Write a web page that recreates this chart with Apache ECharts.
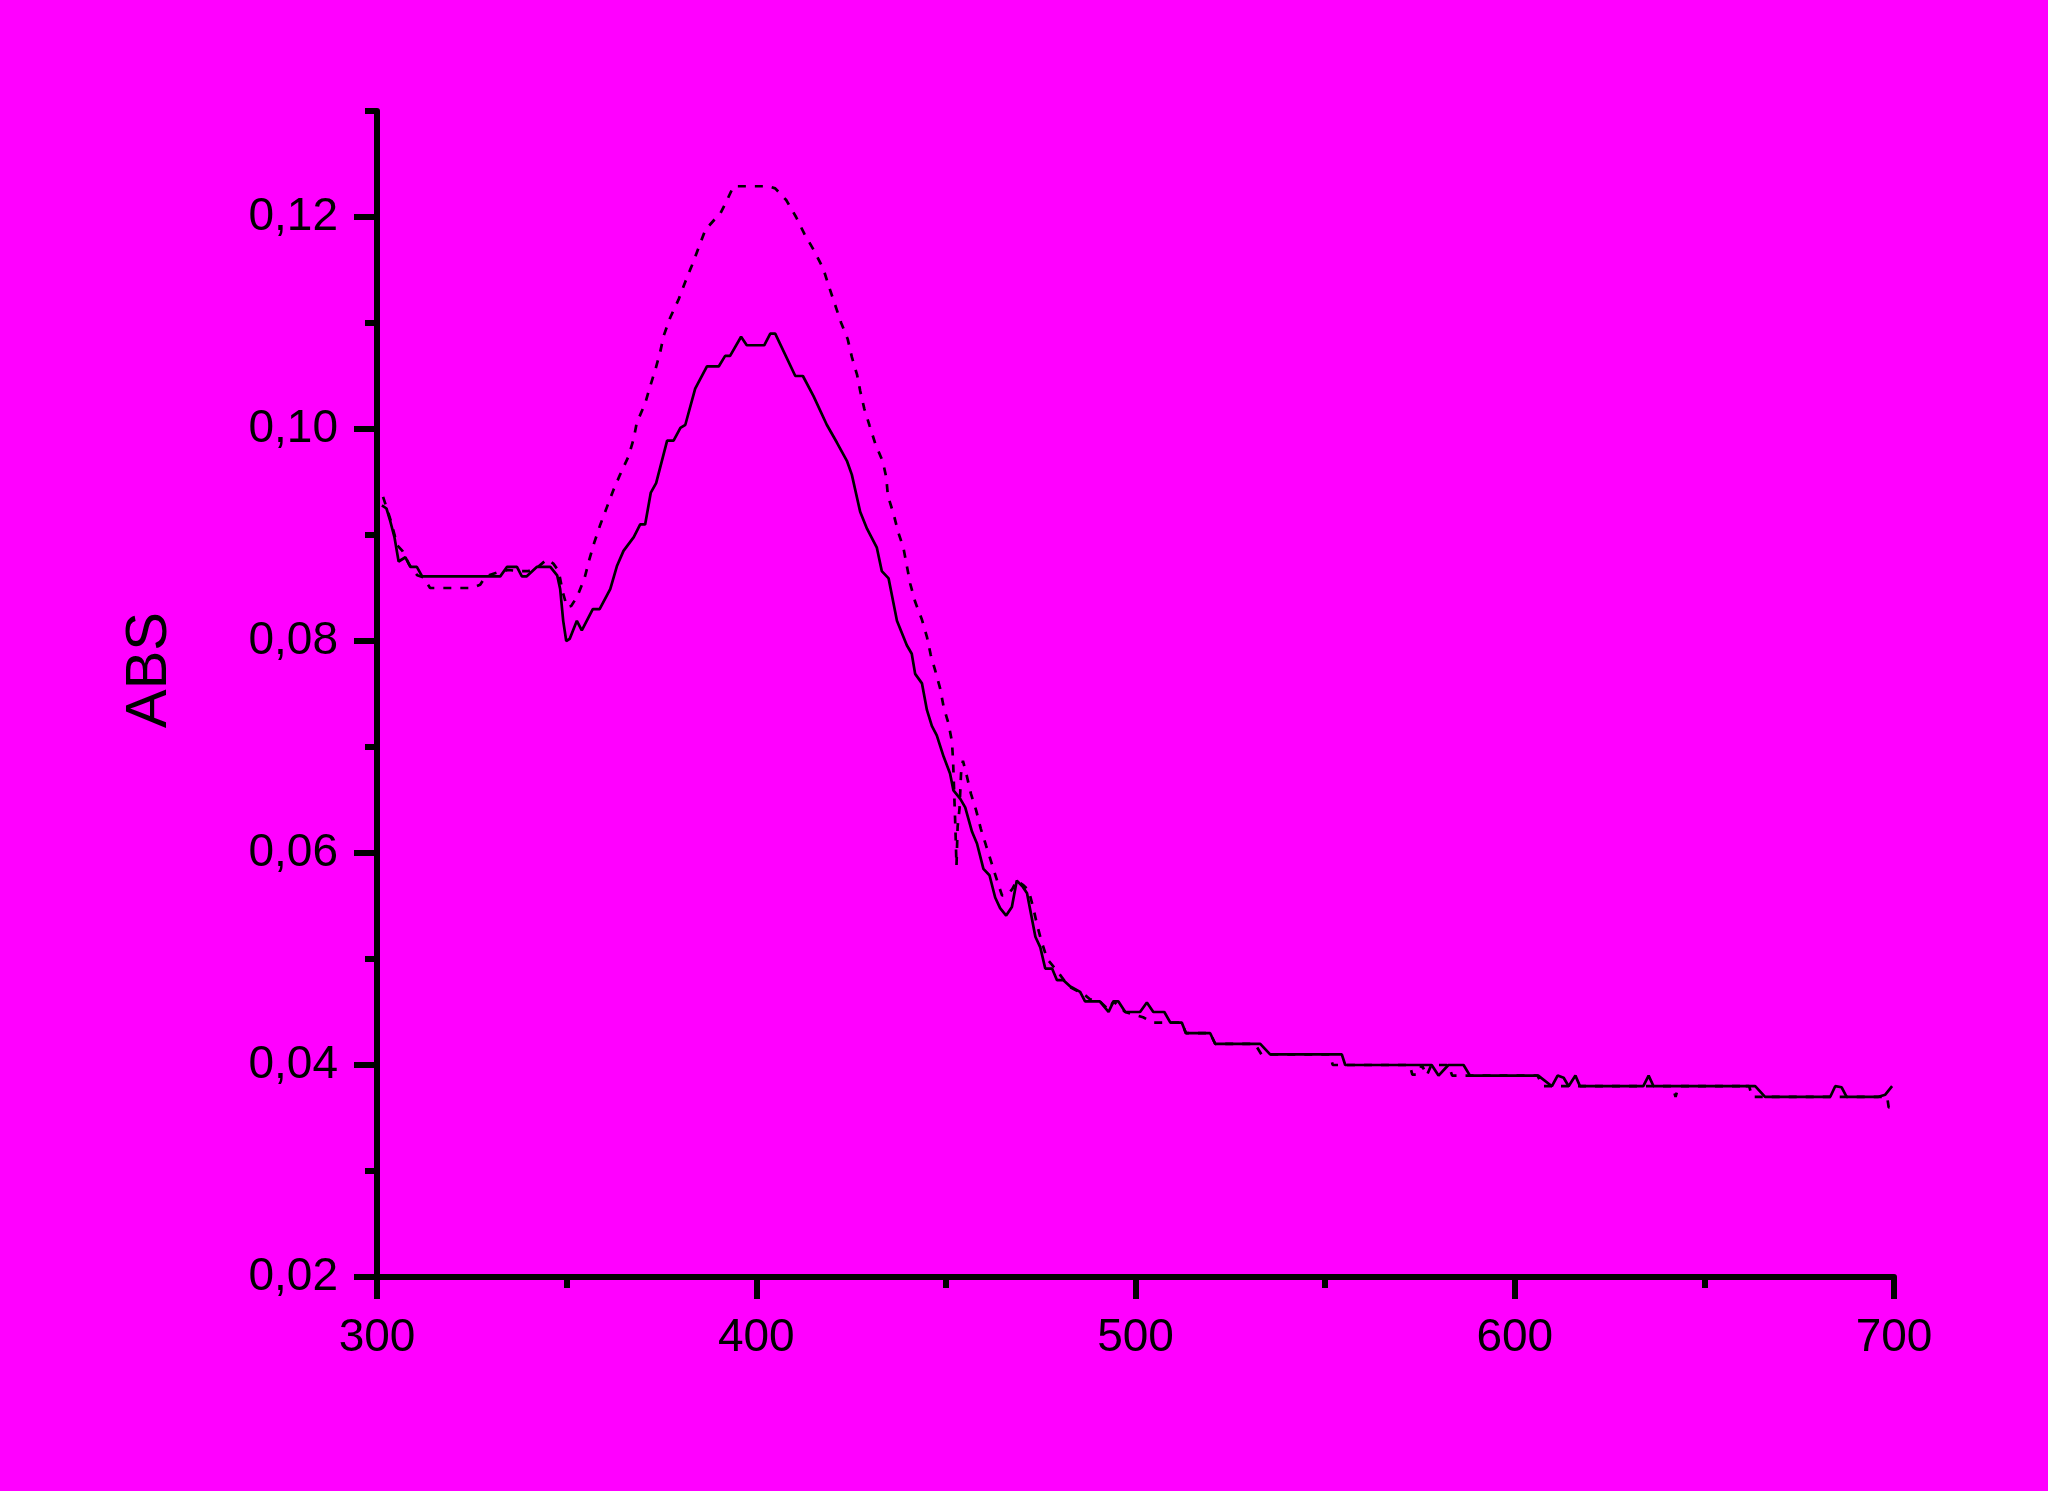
<!DOCTYPE html>
<html>
<head>
<meta charset="utf-8">
<script src="https://cdn.jsdelivr.net/npm/echarts@6/dist/echarts.min.js"></script>
<style>
html,body{margin:0;padding:0;background:#FF00FF;}
#chart{width:2048px;height:1491px;}
</style>
</head>
<body>
<div id="chart"></div>
<script>
// ---- Data (wavelength nm, absorbance) ----
const solidWl = [301.3,302.5,303.5,304.6,305.7,307.5,308.8,310.5,311.9,332.5,334.3,336.9,338.2,339.5,342.2,345.7,347.5,348.3,349.1,349.9,350.8,352.7,354.0,356.9,358.7,361.5,363.3,365.0,367.7,369.4,370.7,372.2,373.6,376.5,378.2,380.0,381.3,383.9,387.0,390.1,391.8,393.1,396.0,397.5,402.1,403.7,405.0,410.3,412.3,415.1,418.6,421.3,423.9,425.2,427.4,429.2,431.8,433.1,434.9,437.1,439.7,441.0,441.9,443.7,445.0,446.3,447.6,449.4,451.1,452.0,453.8,455.1,456.9,458.2,459.9,461.5,463.0,464.3,465.9,467.4,468.7,470.3,471.4,473.6,474.9,476.2,478.0,479.3,481.0,482.8,485.4,486.7,490.6,492.9,494.2,495.5,497.3,501.2,503.0,504.7,507.6,509.2,512.2,513.3,519.7,521.0,532.9,535.5,554.4,555.3,578.1,579.9,582.5,586.5,588.2,606.2,609.8,611.3,612.9,614.2,616.0,617.2,633.9,635.3,636.6,663.4,666.0,683.2,684.5,686.2,687.5,695.9,697.7,699.5];
const solidAbs = [0.0928,0.0925,0.0913,0.0898,0.0875,0.0879,0.0870,0.0870,0.0861,0.0861,0.0870,0.0870,0.0861,0.0861,0.0870,0.0870,0.0862,0.0849,0.0819,0.0800,0.0802,0.0819,0.0810,0.0830,0.0830,0.0849,0.0871,0.0885,0.0898,0.0910,0.0910,0.0940,0.0949,0.0989,0.0989,0.1001,0.1004,0.1038,0.1059,0.1059,0.1069,0.1069,0.1087,0.1079,0.1079,0.1090,0.1090,0.1050,0.1050,0.1031,0.1004,0.0987,0.0970,0.0957,0.0922,0.0906,0.0888,0.0866,0.0859,0.0819,0.0796,0.0788,0.0769,0.0760,0.0735,0.0720,0.0711,0.0691,0.0675,0.0659,0.0651,0.0643,0.0620,0.0609,0.0585,0.0579,0.0558,0.0548,0.0541,0.0549,0.0574,0.0568,0.0562,0.0521,0.0511,0.0491,0.0491,0.0480,0.0480,0.0474,0.0469,0.0460,0.0460,0.0450,0.0460,0.0460,0.0450,0.0450,0.0459,0.0450,0.0450,0.0440,0.0440,0.0430,0.0430,0.0420,0.0420,0.0410,0.0410,0.0400,0.0400,0.0390,0.0400,0.0400,0.0390,0.0390,0.0380,0.0390,0.0388,0.0380,0.0390,0.0380,0.0380,0.0390,0.0380,0.0380,0.0370,0.0370,0.0380,0.0379,0.0370,0.0370,0.0372,0.0380];

const dashWl = [301.6,303.5,305.4,306.7,308.5,310.6,312.2,314.0,325.0,327.2,328.6,332.0,334.7,337.0,340.0,342.5,344.8,346.5,347.9,349.0,350.1,351.2,352.8,354.7,356.0,357.3,358.9,360.7,362.4,364.1,366.3,367.7,368.5,370.7,372.0,373.4,374.7,375.6,377.3,379.5,381.3,383.0,384.8,386.6,389.6,390.5,392.3,394.0,403.2,405.0,407.9,410.5,412.7,415.3,417.7,419.2,420.8,422.4,424.1,425.2,426.6,427.4,428.5,429.9,431.4,433.4,434.3,434.7,436.2,437.4,438.8,439.7,440.6,441.9,443.7,445.0,446.0,447.2,448.5,449.4,450.7,451.6,451.9,452.2,452.5,452.8,453.1,453.6,454.0,454.5,455.5,456.6,458.0,459.2,460.6,462.1,463.5,464.8,466.1,467.5,468.7,470.3,471.8,473.0,474.0,475.1,476.7,479.3,482.4,486.3,488.0,490.6,492.9,494.2,497.3,502.0,504.7,506.5,509.2,512.2,513.3,519.7,521.0,531.5,533.2,551.3,552.0,572.3,573.0,574.3,575.5,576.8,578.0,582.5,583.5,606.0,607.4,641.6,642.4,643.2,659.4,660.0,660.6,661.8,662.6,698.2,698.6,700.0];
const dashAbs = [0.0936,0.0915,0.0890,0.0885,0.0872,0.0862,0.0860,0.0850,0.0850,0.0853,0.0861,0.0865,0.0867,0.0866,0.0866,0.0870,0.0877,0.0873,0.0866,0.0846,0.0832,0.0833,0.0842,0.0859,0.0877,0.0893,0.0910,0.0927,0.0943,0.0957,0.0974,0.0991,0.1006,0.1024,0.1040,0.1056,0.1073,0.1088,0.1105,0.1122,0.1139,0.1154,0.1171,0.1188,0.1200,0.1203,0.1216,0.1229,0.1229,0.1227,0.1216,0.1200,0.1184,0.1168,0.1151,0.1134,0.1117,0.1100,0.1085,0.1068,0.1051,0.1036,0.1019,0.1003,0.0986,0.0969,0.0954,0.0937,0.0920,0.0903,0.0888,0.0871,0.0854,0.0837,0.0820,0.0804,0.0787,0.0772,0.0755,0.0738,0.0722,0.0705,0.0687,0.0656,0.0625,0.0588,0.0625,0.0642,0.0675,0.0687,0.0673,0.0656,0.0640,0.0623,0.0607,0.0590,0.0574,0.0560,0.0560,0.0566,0.0574,0.0570,0.0565,0.0549,0.0533,0.0518,0.0500,0.0489,0.0474,0.0467,0.0462,0.0460,0.0452,0.0460,0.0450,0.0445,0.0440,0.0440,0.0440,0.0440,0.0430,0.0430,0.0420,0.0420,0.0410,0.0410,0.0400,0.0400,0.0391,0.0391,0.0400,0.0390,0.0400,0.0400,0.0390,0.0390,0.0380,0.0380,0.0370,0.0380,0.0380,0.0377,0.0380,0.0380,0.0370,0.0370,0.0360,0.0360];

// ---- Axis ticks ----
const xMin = 300, xMax = 700, xStep = 100;
const yMajorTicks = [0.02,0.04,0.06,0.08,0.10,0.12];
const yMinorTicks = [0.03,0.05,0.07,0.09,0.11,0.13];
const yMin = 0.02, yMax = 0.13;
const yTitle = 'ABS';

const pair = (xs, ys) => xs.slice(0, Math.min(xs.length, ys.length)).map((w,i)=>[w, ys[i]]);
const solidData = pair(solidWl, solidAbs);
const dashData = pair(dashWl, dashAbs);

const chart = echarts.init(document.getElementById('chart'), null, {renderer:'canvas'});
const font = 'Liberation Sans, Arial, sans-serif';
chart.setOption({
  backgroundColor: '#FF00FF',
  animation: false,
  grid: {left: 377, right: 154, top: 111, bottom: 214, containLabel: false, outerBoundsMode: 'none'},
  xAxis: {
    type: 'value', min: xMin, max: xMax, interval: xStep,
    axisLine: {show: true, lineStyle: {color: '#000', width: 6}},
    axisTick: {show: true, length: 22, lineStyle: {color: '#000', width: 6}},
    minorTick: {show: true, splitNumber: 2, length: 11, lineStyle: {color: '#000', width: 6}},
    splitLine: {show: false},
    minorSplitLine: {show: false},
    axisLabel: {color: '#000', fontSize: 46, fontFamily: font, margin: 38}
  },
  yAxis: [{
    type: 'value', min: yMin, max: yMax, position: 'left',
    axisLine: {show: true, lineStyle: {color: '#000', width: 6}},
    axisTick: {show: true, length: 23, customValues: yMajorTicks, lineStyle: {color: '#000', width: 6}},
    splitLine: {show: false},
    axisLabel: {color: '#000', fontSize: 46, fontFamily: font, margin: 39, customValues: yMajorTicks,
      formatter: v => v.toFixed(2).replace('.', ',')},
    name: yTitle, nameLocation: 'middle', nameRotate: 90, nameGap: 198,
    nameTextStyle: {color: '#000', fontSize: 58, fontFamily: font, padding: [0,0,0,48]}
  }, {
    type: 'value', min: yMin, max: yMax, position: 'left', offset: 0,
    axisLine: {show: false},
    axisTick: {show: true, length: 12, customValues: yMinorTicks, lineStyle: {color: '#000', width: 6}},
    axisLabel: {show: false},
    splitLine: {show: false}
  }],
  series: [{
    type: 'line', yAxisIndex: 0, data: dashData, symbol: 'none', silent: true,
    lineStyle: {color: '#000', width: 2.7, type: [8, 9]}, z: 2
  }, {
    type: 'line', yAxisIndex: 0, data: solidData, symbol: 'none', silent: true,
    lineStyle: {color: '#000', width: 2.7}, z: 3
  }]
});
</script>
</body>
</html>
